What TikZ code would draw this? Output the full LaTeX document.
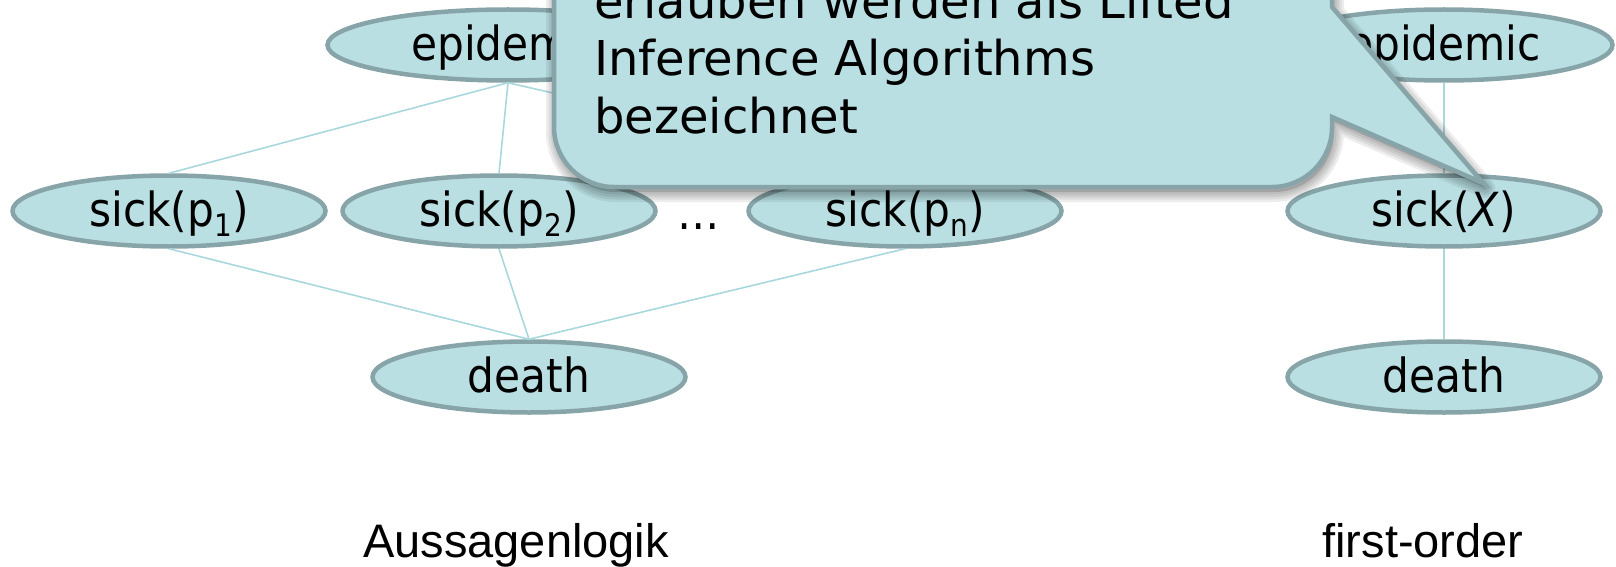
\documentclass[tikz,border=0pt]{standalone}
\usepackage{fontspec}
\usetikzlibrary{shapes.geometric}

\newfontfamily\nodefont{DejaVu Sans}[FakeStretch=0.9]
\newfontfamily\callfont{DejaVu Sans}
\newfontfamily\capfont{Liberation Sans}

% lowered index for the predicate arguments
\newcommand\lowidx[1]{\raisebox{-10pt}{\fontsize{31}{31}\selectfont #1}}

\definecolor{nodefill}{HTML}{B9DFE3}
\definecolor{nodeline}{HTML}{87A5A8}
\definecolor{edgecol}{HTML}{A8D8DD}

\tikzset{
  bnode/.style={ellipse, draw=nodeline, fill=nodefill, line width=4.5pt,
    inner sep=0pt, minimum width=313pt, minimum height=71pt,
    text height=37pt, text depth=6pt,
    font=\nodefont\fontsize{47}{50}\selectfont},
  link/.style={draw=edgecol, line width=1.6pt},
  calltext/.style={anchor=base west, inner sep=0pt,
    font=\callfont\fontsize{48}{57}\selectfont},
  caption/.style={anchor=base, inner sep=0pt,
    font=\capfont\fontsize{47}{50}\selectfont}
}

\begin{document}
\begin{tikzpicture}[x=1pt,y=-1pt]
\useasboundingbox (0,0) rectangle (1616,567);
\clip (0,0) rectangle (1616,567);

% propositional network
\node[bnode, minimum width=361pt] (epiL) at (508,45) {epidemic};
\node[bnode] (s1) at (169,211) {sick(p\lowidx{1})};
\node[bnode] (s2) at (499,211) {sick(p\lowidx{2})};
\node[inner sep=0pt, anchor=base, font=\nodefont\fontsize{47}{50}\selectfont] (dots) at (699,229) {\dots};
\node[bnode] (sn) at (905,211) {sick(p\lowidx{n})};
\node[bnode] (deathL) at (529,377) {death};

% first-order network
\node[bnode, minimum width=337pt] (epiR) at (1444,45) {epidemic};
\node[bnode] (sX) at (1444,211) {sick(\textit{X})};
\node[bnode] (deathR) at (1444,377) {death};

% connectors
\draw[link] (epiL.south) -- (s1.north);
\draw[link] (epiL.south) -- (s2.north);
\draw[link] (epiL.south) -- (sn.north);
\draw[link] (s1.south) -- (deathL.north);
\draw[link] (s2.south) -- (deathL.north);
\draw[link] (sn.south) -- (deathL.north);
\draw[link] (epiR.south) -- (sX.north);
\draw[link] (sX.south) -- (deathR.north);

% captions
\node[caption] (capL) at (516,557) {Aussagenlogik};
\node[caption] (capR) at (1423,557) {first-order};

% speech bubble with soft shadow
\def\bubble{(1332,7) -- (1483,183) -- (1332,117) -- (1332,127)
  .. controls (1332,160.1) and (1305.1,187) .. (1272,187) -- (614,187)
  .. controls (580.9,187) and (554,160.1) .. (554,127)
  -- (554,-150) -- (1332,-150) -- cycle}
\begin{scope}[shift={(2,5)}]
  \foreach \w in {20,15,10,5}
    \draw[black, opacity=0.07, line width=\w pt, line join=round] \bubble;
  \fill[black, opacity=0.15] \bubble;
\end{scope}
\draw[draw=nodeline, fill=nodefill, line width=4.5pt, line join=miter] \bubble;

\node[calltext] (ct1) at (594,19) {erlauben werden als Lifted};
\node[calltext] (ct2) at (594,76) {Inference Algorithms};
\node[calltext] (ct3) at (594,133) {bezeichnet};
\end{tikzpicture}
\end{document}
